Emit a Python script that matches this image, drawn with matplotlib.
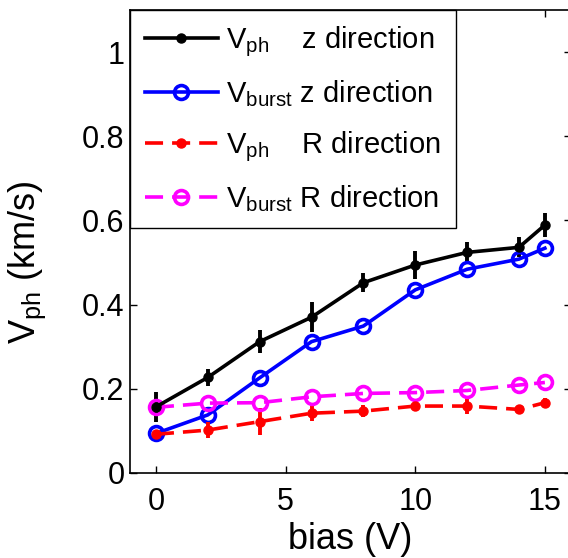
import matplotlib
matplotlib.use("Agg")
import matplotlib.pyplot as plt
import numpy as np

plt.rcParams['font.family'] = ['Liberation Sans', 'DejaVu Sans']
plt.rcParams['mathtext.fontset'] = 'custom'
plt.rcParams['mathtext.rm'] = 'Liberation Sans'
plt.rcParams['mathtext.it'] = 'Liberation Sans'

bias = [0, 2, 4, 6, 8, 10, 12, 14, 15]
vph_z = [0.157, 0.227, 0.312, 0.370, 0.452, 0.494, 0.524, 0.536, 0.589]
vph_z_err = [0.035, 0.02, 0.028, 0.035, 0.023, 0.034, 0.024, 0.024, 0.028]
vburst_z = [0.094, 0.138, 0.226, 0.312, 0.349, 0.435, 0.484, 0.508, 0.534]
vph_r = [0.092, 0.102, 0.122, 0.142, 0.147, 0.159, 0.159, 0.151, 0.167]
vph_r_err = [0.01, 0.02, 0.032, 0.019, 0.015, 0.012, 0.02, 0.01, 0.01]
vburst_r = [0.156, 0.166, 0.167, 0.181, 0.189, 0.191, 0.196, 0.209, 0.215]

labels = [r'$\mathregular{V_{ph}}$    z direction',
          r'$\mathregular{V_{burst}}$ z direction',
          r'$\mathregular{V_{ph}}$    R direction',
          r'$\mathregular{V_{burst}}$ R direction']

W, H = 568, 558
fig = plt.figure(figsize=(W/100, H/100), dpi=100)
ax_left, ax_bottom = 130, 473
ax_w = 17 * 25.93
ax_h = 1.1 * 421
ax = fig.add_axes([ax_left/W, (H-ax_bottom)/H, ax_w/W, ax_h/H])

lw = 2.6
dash = (5, 2.5)
e1 = ax.errorbar(bias, vph_z, yerr=vph_z_err, color='black', lw=lw, marker='o', ms=6.5,
                 elinewidth=2.8, capsize=0)
l2, = ax.plot(bias, vburst_z, color='blue', lw=lw, marker='o', ms=10, mfc='none', mew=2.6)
e3 = ax.errorbar(bias, vph_r, yerr=vph_r_err, color='red', lw=lw, ls='--', marker='o', ms=6.5,
                 elinewidth=2.8, capsize=0)
e3[0].set_dashes(dash)
l4, = ax.plot(bias, vburst_r, color='magenta', lw=lw, ls='--', dashes=dash, marker='o', ms=10,
              mfc='none', mew=2.6)

ax.set_xlim(-1, 16)
ax.set_ylim(0, 1.1)
ax.set_xticks([0, 5, 10, 15])
ax.set_yticks([0, 0.2, 0.4, 0.6, 0.8, 1])
ax.set_yticklabels(['0', '0.2', '0.4', '0.6', '0.8', '1'])
ax.tick_params(direction='in', top=True, right=True, labelsize=22, length=5, width=1)
ax.tick_params(axis='x', pad=10)
ax.tick_params(axis='y', pad=4)
for s in ax.spines.values():
    s.set_linewidth(1.2)

ax.set_xlabel('bias (V)', fontsize=26, labelpad=4)
ax.set_ylabel(r'$\mathregular{V_{ph}}$ (km/s)', fontsize=26)
ax.yaxis.set_label_coords(-0.186, 0.455)

leg = ax.legend([e1[0], l2, e3[0], l4], labels, loc='upper left', fontsize=21,
                handlelength=2.5, borderaxespad=0,
                frameon=True, fancybox=False, edgecolor='black', framealpha=1,
                labelspacing=0.67, borderpad=0.5, handletextpad=0.3)
leg.get_frame().set_linewidth(1.0)

fig.savefig('out.png', dpi=100)
